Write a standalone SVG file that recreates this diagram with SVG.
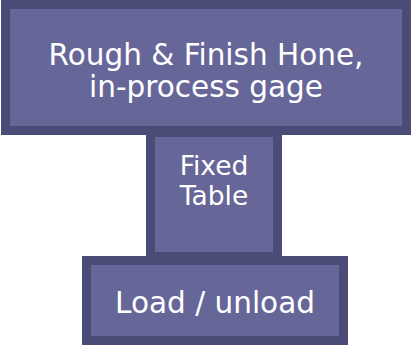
<svg xmlns="http://www.w3.org/2000/svg" width="411" height="346" viewBox="0 0 411 346">
<style>
.box{fill:#666699;stroke:#4b4b78;stroke-width:9}
.t{fill:#ffffff;font-family:"DejaVu Sans",Verdana,sans-serif;text-anchor:middle}
</style>
<rect width="411" height="346" fill="#ffffff"/>
<g id="hone">
<rect class="box" x="5.5" y="4.5" width="401" height="126"/>
<text class="t" x="206" y="65" font-size="29.5">Rough &amp; Finish Hone,</text>
<text class="t" x="206" y="97" font-size="29.5">in-process gage</text>
</g>
<g id="table">
<rect class="box" x="150.5" y="132.5" width="127" height="124"/>
<text class="t" x="214" y="175" font-size="26.5">Fixed</text>
<text class="t" x="214" y="205" font-size="26.5">Table</text>
</g>
<g id="load">
<rect class="box" x="86.5" y="260.5" width="257" height="80"/>
<text class="t" x="215" y="313" font-size="29.5">Load / unload</text>
</g>
<g id="connectors"></g>
</svg>
